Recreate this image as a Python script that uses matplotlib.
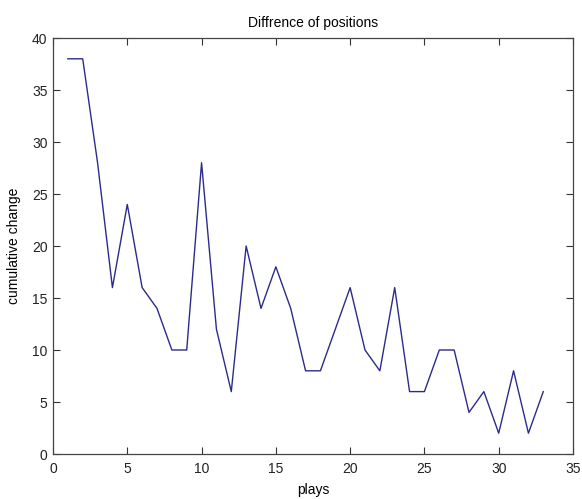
import matplotlib
matplotlib.use("Agg")
import matplotlib.pyplot as plt

# values
plays = list(range(1, 34))
cumulative_change = [38, 38, 28, 16, 24, 16, 14, 10, 10, 28,
                     12, 6, 20, 14, 18, 14, 8, 8, 12, 16,
                     10, 8, 16, 6, 6, 10, 10, 4, 6, 2,
                     8, 2, 6]
x_ticks = [0, 5, 10, 15, 20, 25, 30, 35]
y_ticks = [0, 5, 10, 15, 20, 25, 30, 35, 40]

plt.rcParams['font.family'] = ['Liberation Sans', 'DejaVu Sans']
plt.rcParams['font.size'] = 10

fig = plt.figure(figsize=(5.82, 4.99), dpi=100)
ax = fig.add_axes([53 / 582, 1 - 454 / 499, 520 / 582, 416 / 499])

ax.plot(plays, cumulative_change, color='#2b2b8c', linewidth=1.0)

ax.set_xlim(0, 35)
ax.set_ylim(0, 40)
ax.set_xticks(x_ticks)
ax.set_yticks(y_ticks)
ax.tick_params(direction='in', top=True, right=True, length=5,
               width=0.8, colors='#333333', labelcolor='#222222')
ax.tick_params(axis='x', pad=6)
ax.tick_params(axis='y', pad=4)
for s in ax.spines.values():
    s.set_color('#444444')
    s.set_linewidth(0.9)

ax.set_title('Diffrence of positions', fontsize=10, pad=8)
ax.set_xlabel('plays', fontsize=10, labelpad=5)
ax.set_ylabel('cumulative change', fontsize=10, labelpad=8)

fig.savefig('out.png', dpi=100)
